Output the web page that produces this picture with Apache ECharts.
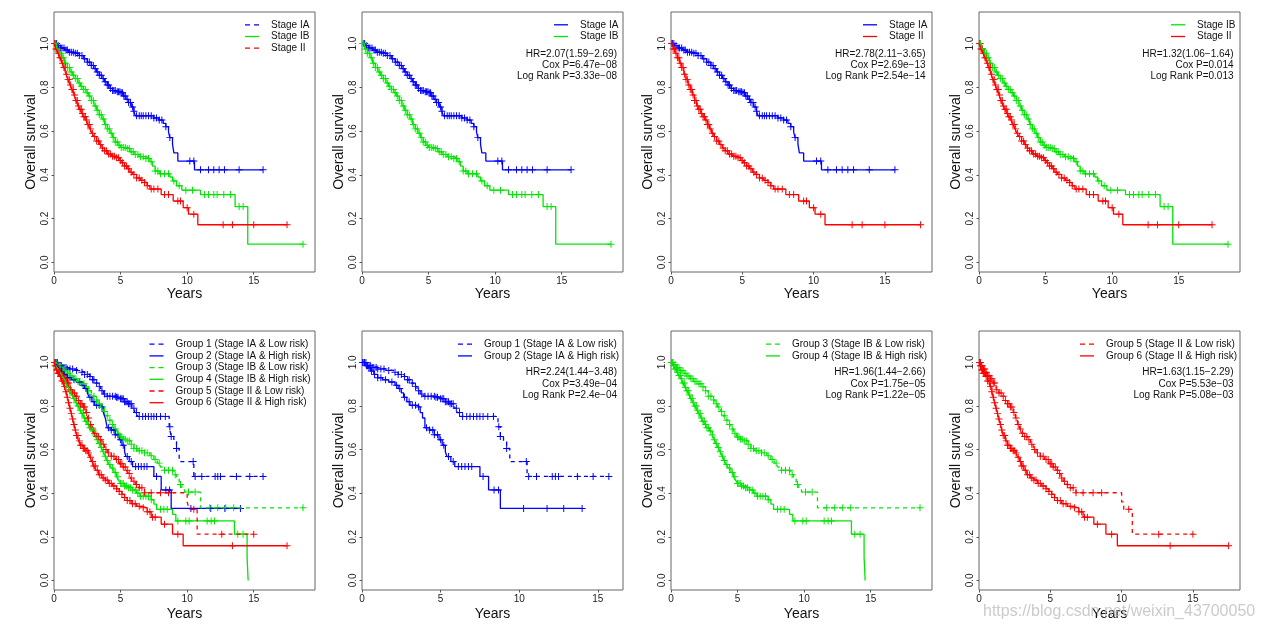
<!DOCTYPE html>
<html><head><meta charset="utf-8">
<script src="https://cdn.jsdelivr.net/npm/echarts@6/dist/echarts.min.js"></script>
<style>html,body{margin:0;padding:0;background:#fff}#c{width:1265px;height:629px}</style>
</head><body><div id="c"></div>
<script>
// ---------------- DATA ----------------
const xTicks = [0, 5, 10, 15];
const yTicks = [0, 0.2, 0.4, 0.6, 0.8, 1.0];

// Kaplan-Meier step points [time (years), survival]
const stageIA = [[0,1],[0.25,0.99],[0.5,0.98],[0.8,0.97],[1.1,0.96],[1.5,0.955],[1.9,0.945],[2.2,0.93],[2.5,0.915],[2.8,0.9],[3.0,0.885],[3.2,0.87],[3.4,0.855],[3.6,0.84],[3.8,0.825],[4.0,0.81],[4.2,0.795],[4.4,0.785],[4.7,0.78],[5.0,0.775],[5.2,0.76],[5.4,0.745],[5.6,0.73],[5.8,0.71],[6.0,0.69],[6.1,0.67],[7.5,0.66],[7.9,0.65],[8.2,0.635],[8.4,0.62],[8.6,0.595],[8.7,0.57],[8.9,0.54],[9.0,0.5],[9.3,0.463],[10.55,0.423],[15.7,0.423]];
const stageIA_cens = [0.1,0.2,0.35,0.5,0.6,0.75,0.9,1.0,1.15,1.3,1.45,1.6,1.75,1.9,2.1,2.3,2.5,2.65,2.8,2.95,3.1,3.25,3.4,3.55,3.7,3.85,4.0,4.1,4.25,4.4,4.5,4.6,4.75,4.85,4.95,5.05,5.15,5.25,5.35,5.5,5.6,5.75,5.9,6.0,6.2,6.4,6.55,6.7,6.9,7.1,7.3,7.5,7.7,7.9,8.1,8.4,8.7,10.2,10.5,11.0,11.6,12.0,12.4,12.8,13.9,15.7];

const stageIB = [[0,1],[0.2,0.975],[0.4,0.955],[0.6,0.935],[0.8,0.91],[1.0,0.89],[1.2,0.87],[1.4,0.855],[1.6,0.84],[1.8,0.82],[2.0,0.805],[2.2,0.79],[2.4,0.775],[2.6,0.76],[2.8,0.74],[3.0,0.715],[3.2,0.695],[3.4,0.675],[3.6,0.655],[3.8,0.63],[4.0,0.61],[4.2,0.59],[4.4,0.57],[4.6,0.55],[4.8,0.535],[5.0,0.525],[5.4,0.52],[5.7,0.505],[6.0,0.493],[6.4,0.483],[6.9,0.475],[7.2,0.46],[7.4,0.44],[7.6,0.418],[7.9,0.405],[8.7,0.39],[8.9,0.372],[9.2,0.35],[9.6,0.33],[11.0,0.31],[13.6,0.255],[14.55,0.083],[18.7,0.083]];
const stageIB_cens = [0.1,0.25,0.4,0.55,0.7,0.85,1.0,1.15,1.3,1.45,1.6,1.75,1.9,2.05,2.2,2.35,2.5,2.65,2.8,2.95,3.1,3.25,3.4,3.55,3.7,3.85,4.0,4.15,4.3,4.45,4.6,4.75,4.9,5.05,5.2,5.35,5.5,5.65,5.8,5.95,6.1,6.3,6.5,6.7,6.9,7.1,7.3,7.6,7.8,8.0,8.3,8.6,9.0,9.4,9.9,10.4,11.3,11.6,12.0,12.25,12.75,13.25,13.9,14.2,18.7];

const stageII = [[0,1],[0.15,0.975],[0.3,0.955],[0.45,0.935],[0.6,0.91],[0.75,0.89],[0.9,0.86],[1.05,0.835],[1.2,0.81],[1.35,0.79],[1.5,0.765],[1.65,0.74],[1.8,0.715],[1.95,0.7],[2.1,0.68],[2.25,0.665],[2.4,0.65],[2.55,0.63],[2.7,0.61],[2.85,0.59],[3.0,0.575],[3.2,0.555],[3.4,0.538],[3.6,0.522],[3.8,0.51],[4.0,0.495],[4.3,0.485],[4.6,0.478],[4.9,0.465],[5.1,0.455],[5.3,0.44],[5.5,0.428],[5.7,0.412],[5.9,0.402],[6.2,0.385],[6.5,0.375],[6.8,0.365],[7.0,0.35],[7.2,0.335],[8.05,0.31],[8.95,0.28],[9.7,0.25],[10.1,0.22],[10.8,0.172],[17.5,0.172]];
const stageII_cens = [0.05,0.15,0.25,0.35,0.45,0.55,0.65,0.75,0.85,0.95,1.05,1.15,1.25,1.35,1.45,1.55,1.65,1.75,1.85,1.95,2.05,2.15,2.25,2.35,2.45,2.55,2.65,2.75,2.9,3.05,3.2,3.35,3.5,3.65,3.8,3.95,4.1,4.25,4.4,4.55,4.7,4.85,5.0,5.15,5.3,5.45,5.6,5.8,6.0,6.2,6.4,6.6,6.8,7.0,7.3,7.5,7.8,8.3,8.6,9.3,9.5,10.0,10.5,12.7,13.4,15.0,17.5];

const group1 = [[0,1],[0.3,0.985],[0.6,0.977],[1.0,0.97],[1.5,0.963],[2.0,0.955],[2.3,0.945],[2.7,0.935],[2.9,0.92],[3.1,0.905],[3.3,0.89],[3.5,0.87],[3.7,0.855],[3.9,0.845],[4.7,0.84],[5.0,0.833],[5.3,0.82],[5.6,0.81],[5.85,0.79],[6.05,0.77],[6.25,0.752],[8.65,0.705],[8.8,0.66],[9.0,0.636],[9.2,0.605],[9.4,0.545],[10.5,0.477],[15.7,0.477]];
const group1_cens = [0.05,0.15,0.25,0.35,0.45,0.55,0.65,0.75,0.9,1.0,1.2,1.4,1.7,2.1,2.3,2.5,2.7,2.9,3.0,3.2,3.4,3.6,3.8,4.0,4.2,4.4,4.6,4.7,4.8,5.0,5.1,5.2,5.3,5.4,5.5,5.6,5.7,5.8,6.0,6.2,6.4,6.66,6.87,7.09,7.3,7.5,7.7,8.0,8.36,8.7,8.8,9.2,10.45,10.6,11.1,12.1,12.3,12.5,13.7,14.7,15.7];

const group2 = [[0,1],[0.2,0.985],[0.35,0.975],[0.55,0.96],[0.75,0.945],[1.0,0.93],[1.3,0.92],[1.7,0.91],[2.1,0.895],[2.3,0.88],[2.5,0.86],[2.65,0.84],[2.85,0.82],[3.05,0.803],[3.5,0.795],[3.7,0.77],[3.85,0.745],[4.0,0.7],[4.3,0.69],[4.6,0.668],[4.9,0.645],[5.1,0.62],[5.3,0.59],[5.4,0.568],[5.65,0.545],[5.9,0.522],[7.5,0.477],[8.05,0.415],[8.8,0.33],[14.0,0.33]];
const group2_cens = [0.05,0.15,0.3,0.45,0.6,0.8,1.0,1.2,1.5,1.9,2.2,2.4,2.7,3.0,3.2,3.4,3.6,4.1,4.3,4.5,4.6,4.8,5.0,5.2,5.5,5.8,6.13,6.34,6.55,6.77,6.98,7.7,8.4,8.68,10.28,11.77,12.83,14.0];

const group3 = [[0,1],[0.2,0.99],[0.45,0.975],[0.7,0.962],[0.95,0.95],[1.2,0.938],[1.45,0.925],[1.7,0.912],[2.0,0.902],[2.4,0.888],[2.6,0.87],[2.8,0.845],[3.1,0.828],[3.3,0.81],[3.5,0.795],[3.7,0.775],[3.9,0.755],[4.1,0.735],[4.3,0.715],[4.5,0.695],[4.7,0.675],[4.9,0.658],[5.2,0.648],[5.5,0.64],[5.8,0.625],[6.0,0.605],[6.3,0.595],[6.8,0.585],[7.2,0.572],[7.5,0.555],[7.75,0.538],[8.0,0.52],[8.2,0.505],[9.0,0.485],[9.2,0.465],[9.4,0.44],[9.6,0.42],[9.8,0.405],[11.0,0.333],[18.7,0.333]];
const group3_cens = [0.05,0.15,0.3,0.45,0.6,0.75,0.9,1.05,1.2,1.35,1.5,1.65,1.8,1.95,2.1,2.25,2.4,2.6,2.8,3.0,3.2,3.4,3.6,3.8,4.0,4.2,4.4,4.6,4.8,5.0,5.1,5.2,5.35,5.5,5.65,5.8,6.0,6.2,6.4,6.6,6.8,7.0,7.3,7.6,7.9,8.3,8.6,8.9,9.1,9.5,10.1,10.6,11.7,12.3,12.9,13.5,18.7];

const group4 = [[0,1],[0.15,0.985],[0.3,0.97],[0.45,0.955],[0.6,0.94],[0.75,0.925],[0.9,0.905],[1.05,0.885],[1.2,0.87],[1.35,0.85],[1.5,0.835],[1.65,0.815],[1.8,0.8],[1.95,0.78],[2.1,0.765],[2.25,0.745],[2.4,0.73],[2.55,0.715],[2.7,0.7],[2.9,0.685],[3.1,0.667],[3.25,0.645],[3.4,0.628],[3.55,0.61],[3.7,0.59],[3.85,0.57],[4.0,0.55],[4.15,0.532],[4.3,0.515],[4.5,0.495],[4.7,0.475],[4.85,0.46],[5.0,0.445],[5.3,0.433],[5.6,0.425],[5.9,0.415],[6.2,0.4],[6.45,0.386],[7.3,0.37],[7.5,0.35],[7.7,0.326],[8.9,0.303],[9.15,0.273],[13.55,0.212],[14.5,0.106],[14.58,0]];
const group4_cens = [0.05,0.1,0.2,0.3,0.4,0.5,0.6,0.7,0.8,0.9,1.0,1.1,1.2,1.3,1.4,1.5,1.6,1.7,1.8,1.9,2.0,2.1,2.2,2.3,2.4,2.5,2.6,2.7,2.8,2.95,3.1,3.25,3.4,3.55,3.7,3.85,4.0,4.2,4.4,4.6,4.8,5.0,5.1,5.2,5.3,5.45,5.6,5.75,5.9,6.1,6.3,6.5,6.7,6.9,7.1,7.3,8.0,8.25,8.5,9.3,9.9,10.15,11.5,11.8,12.05,13.8,14.2];

const group5 = [[0,1],[0.15,0.985],[0.3,0.97],[0.45,0.955],[0.6,0.94],[0.8,0.925],[1.0,0.905],[1.2,0.875],[1.4,0.86],[1.6,0.845],[1.8,0.825],[2.0,0.81],[2.2,0.795],[2.4,0.77],[2.55,0.745],[2.7,0.715],[2.85,0.695],[3.0,0.675],[3.2,0.66],[3.4,0.645],[3.6,0.625],[3.8,0.6],[4.0,0.585],[4.3,0.57],[4.6,0.555],[4.9,0.535],[5.2,0.52],[5.45,0.505],[5.6,0.49],[5.75,0.47],[5.9,0.455],[6.1,0.44],[6.4,0.425],[6.8,0.402],[10.0,0.36],[10.15,0.326],[10.75,0.212],[15.0,0.212]];
const group5_cens = [0.05,0.1,0.2,0.3,0.4,0.5,0.6,0.7,0.8,0.9,1.0,1.1,1.25,1.4,1.55,1.7,1.85,2.0,2.1,2.2,2.3,2.45,2.6,2.75,2.9,3.05,3.2,3.35,3.5,3.7,3.9,4.1,4.3,4.5,4.7,4.85,5.0,5.1,5.2,5.35,5.5,5.65,5.8,6.0,6.2,6.4,6.6,6.8,7.3,8.0,8.6,10.5,12.6,15.0];

const group6 = [[0,1],[0.1,0.985],[0.2,0.965],[0.3,0.95],[0.45,0.935],[0.6,0.915],[0.75,0.89],[0.9,0.865],[1.0,0.84],[1.1,0.815],[1.2,0.79],[1.3,0.765],[1.4,0.74],[1.5,0.715],[1.6,0.69],[1.7,0.665],[1.85,0.64],[2.0,0.62],[2.2,0.605],[2.4,0.595],[2.6,0.585],[2.7,0.565],[2.85,0.545],[3.0,0.525],[3.15,0.505],[3.35,0.485],[3.6,0.47],[3.85,0.46],[4.1,0.445],[4.4,0.433],[4.7,0.42],[4.9,0.408],[5.1,0.395],[5.3,0.38],[5.5,0.366],[5.8,0.352],[6.2,0.34],[6.6,0.333],[7.0,0.315],[7.3,0.29],[8.05,0.258],[8.9,0.212],[9.7,0.159],[17.5,0.159]];
const group6_cens = [0.05,0.1,0.15,0.2,0.25,0.3,0.35,0.4,0.5,0.6,0.7,0.8,0.9,1.0,1.1,1.2,1.3,1.4,1.5,1.6,1.7,1.8,1.9,2.0,2.1,2.2,2.3,2.4,2.5,2.6,2.75,2.9,3.0,3.1,3.25,3.4,3.55,3.7,3.85,4.0,4.15,4.3,4.5,4.7,4.9,5.1,5.3,5.5,5.7,5.9,6.1,6.4,6.7,7.0,7.2,7.4,7.6,8.3,9.3,13.4,17.5];

const stats2 = ['HR=2.07(1.59\u22122.69)', 'Cox P=6.47e\u221208', 'Log Rank P=3.33e\u221208'];
const stats3 = ['HR=2.78(2.11\u22123.65)', 'Cox P=2.69e\u221213', 'Log Rank P=2.54e\u221214'];
const stats4 = ['HR=1.32(1.06\u22121.64)', 'Cox P=0.014', 'Log Rank P=0.013'];
const stats6 = ['HR=2.24(1.44\u22123.48)', 'Cox P=3.49e\u221204', 'Log Rank P=2.4e\u221204'];
const stats7 = ['HR=1.96(1.44\u22122.66)', 'Cox P=1.75e\u221205', 'Log Rank P=1.22e\u221205'];
const stats8 = ['HR=1.63(1.15\u22122.29)', 'Cox P=5.53e\u221203', 'Log Rank P=5.08e\u221203'];

// ---------------- STYLE / LAYOUT ----------------
const FONT = "'Liberation Sans', Arial, Helvetica, sans-serif";
const BLUE = '#0000ff', GREEN = '#00e600', RED = '#ff0000';
const PLUS = 'path://M0,4.3H10V5.7H0Z M4.3,0H5.7V10H4.3Z';
const DASH_ICON = 'path://M0,0H5V1.3H0Z M9,0H14V1.3H9Z';
const SOLID_ICON = 'path://M0,0H14V1.3H0Z';

const G1 = 'Group 1 (Stage IA & Low risk)', G2 = 'Group 2 (Stage IA & High risk)',
      G3 = 'Group 3 (Stage IB & Low risk)', G4 = 'Group 4 (Stage IB & High risk)',
      G5 = 'Group 5 (Stage II & Low risk)', G6 = 'Group 6 (Stage II & High risk)';

const curves = {
  'Stage IA': {steps: stageIA, cens: stageIA_cens, color: BLUE, dashed: false},
  'Stage IB': {steps: stageIB, cens: stageIB_cens, color: GREEN, dashed: false},
  'Stage II': {steps: stageII, cens: stageII_cens, color: RED, dashed: false},
  [G1]: {steps: group1, cens: group1_cens, color: BLUE, dashed: true},
  [G2]: {steps: group2, cens: group2_cens, color: BLUE, dashed: false},
  [G3]: {steps: group3, cens: group3_cens, color: GREEN, dashed: true},
  [G4]: {steps: group4, cens: group4_cens, color: GREEN, dashed: false},
  [G5]: {steps: group5, cens: group5_cens, color: RED, dashed: true},
  [G6]: {steps: group6, cens: group6_cens, color: RED, dashed: false}
};

const TOP1 = 12, H1 = 260, TOP2 = 331, H2 = 259, W = 261;
const LY1 = 19.8, LY2 = 339.2, SY1 = 48.2, SY2 = 367;
const panels = [
  {left: 54,  top: TOP1, h: H1, xmax: 19.6, names: ['Stage IA','Stage IB','Stage II'], legend: [['Stage IA',true],['Stage IB',false],['Stage II',true]], lx: 245, ly: LY1, stats: null},
  {left: 362, top: TOP1, h: H1, xmax: 19.6, names: ['Stage IA','Stage IB'], legend: [['Stage IA',false],['Stage IB',false]], lx: 554, ly: LY1, stats: stats2, sx: 617, sy: SY1},
  {left: 671, top: TOP1, h: H1, xmax: 18.3, names: ['Stage IA','Stage II'], legend: [['Stage IA',false],['Stage II',false]], lx: 863, ly: LY1, stats: stats3, sx: 925.5, sy: SY1},
  {left: 979, top: TOP1, h: H1, xmax: 19.6, names: ['Stage IB','Stage II'], legend: [['Stage IB',false],['Stage II',false]], lx: 1171, ly: LY1, stats: stats4, sx: 1233.5, sy: SY1},
  {left: 54,  top: TOP2, h: H2, xmax: 19.6, names: [G1,G2,G3,G4,G5,G6], legend: [[G1,true],[G2,false],[G3,true],[G4,false],[G5,true],[G6,false]], lx: 149.5, ly: LY2, stats: null},
  {left: 362, top: TOP2, h: H2, xmax: 16.6, names: [G1,G2], legend: [[G1,true],[G2,false]], lx: 458, ly: LY2, stats: stats6, sx: 617, sy: SY2},
  {left: 671, top: TOP2, h: H2, xmax: 19.6, names: [G3,G4], legend: [[G3,true],[G4,false]], lx: 766, ly: LY2, stats: stats7, sx: 925.5, sy: SY2},
  {left: 979, top: TOP2, h: H2, xmax: 18.3, names: [G5,G6], legend: [[G5,true],[G6,false]], lx: 1080, ly: LY2, stats: stats8, sx: 1233.5, sy: SY2}
];

function survAt(steps, t) {
  let s = steps[0][1];
  for (const [ti, si] of steps) { if (ti <= t) s = si; else break; }
  return s;
}

const grid = [], xAxis = [], yAxis = [], series = [], legend = [], graphic = [];
panels.forEach((p, i) => {
  const bottomRow = p.top === TOP2;
  grid.push({left: p.left, top: p.top, width: W, height: p.h, show: true, borderColor: '#666', borderWidth: 1,
             backgroundColor: 'transparent', containLabel: false, outerBoundsMode: 'none'});
  xAxis.push({gridIndex: i, type: 'value', min: 0, max: p.xmax, position: 'bottom',
    name: 'Years', nameLocation: 'middle', nameGap: bottomRow ? 17 : 15,
    nameTextStyle: {fontSize: 14, fontFamily: FONT, color: '#111'},
    axisLine: {show: false, onZero: false}, splitLine: {show: false},
    axisTick: {show: true, length: 2.5, customValues: xTicks, lineStyle: {color: '#555'}},
    axisLabel: {customValues: xTicks, fontSize: 10, fontFamily: FONT, color: '#222', margin: 4}});
  yAxis.push({gridIndex: i, type: 'value', min: -0.044, max: 1.144, position: 'left',
    name: 'Overall survival', nameLocation: 'middle', nameGap: 15.5,
    nameTextStyle: {fontSize: 14, fontFamily: FONT, color: '#111'},
    axisLine: {show: false, onZero: false}, splitLine: {show: false},
    axisTick: {show: true, length: 2.5, customValues: yTicks, lineStyle: {color: '#555'}},
    axisLabel: {customValues: yTicks, rotate: 90, fontSize: 10, fontFamily: FONT, color: '#222', margin: 4,
                formatter: v => Number(v).toFixed(1)}});
  p.names.forEach(n => {
    const c = curves[n];
    series.push({name: n, type: 'line', xAxisIndex: i, yAxisIndex: i, step: 'end',
      symbol: 'none', showSymbol: false, silent: true, clip: true,
      lineStyle: {color: c.color, width: 1.3, type: c.dashed ? [4, 4] : 'solid'},
      itemStyle: {color: c.color}, data: c.steps});
    series.push({name: n, type: 'scatter', xAxisIndex: i, yAxisIndex: i, silent: true,
      symbol: PLUS, symbolSize: 7, itemStyle: {color: c.color, opacity: 1},
      data: c.cens.map(t => [t, survAt(c.steps, t)])});
  });
  legend.push({orient: 'vertical', left: p.lx, top: p.ly, padding: 0, itemGap: 1.7,
    itemWidth: 14, itemHeight: 10, selectedMode: false,
    itemStyle: {borderWidth: 0},
    textStyle: {fontSize: 10, fontFamily: FONT, color: '#111', padding: [0, 0, 0, 7]},
    data: p.legend.map(([n, d]) => ({name: n, icon: d ? DASH_ICON : SOLID_ICON}))});
  if (p.stats) {
    graphic.push({type: 'text', x: p.sx, y: p.sy, silent: true,
      style: {text: p.stats.join('\n'), fill: '#111', fontSize: 10, fontFamily: FONT,
              align: 'right', verticalAlign: 'top', lineHeight: 11.2}});
  }
});
graphic.push({type: 'text', x: 983, y: 611.5, silent: true, z: 100,
  style: {text: 'https://blog.csdn.net/weixin_43700050', fill: 'rgba(185,185,185,0.75)', fontSize: 16,
          fontFamily: FONT, align: 'left', verticalAlign: 'middle'}});

const chart = echarts.init(document.getElementById('c'), null, {renderer: 'canvas'});
chart.setOption({animation: false, backgroundColor: '#fff', grid, xAxis, yAxis, series, legend, graphic});
</script></body></html>
